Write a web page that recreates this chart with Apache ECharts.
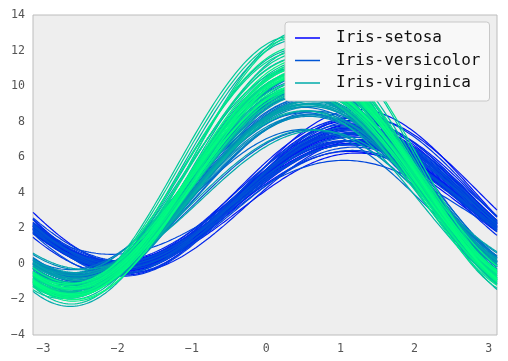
<!DOCTYPE html>
<html>
<head>
<meta charset="utf-8">
<script src="https://cdn.jsdelivr.net/npm/echarts@6/dist/echarts.min.js"></script>
<style>
html,body{margin:0;padding:0;background:#fff;}
#c{width:508px;height:361px;}
</style>
</head>
<body>
<div id="c"></div>
<script>
// Iris dataset (class order as in the file), first three measurements used by the curves
const classNames = ['Iris-setosa', 'Iris-versicolor', 'Iris-virginica'];
const sepalLength = [
5.1,4.9,4.7,4.6,5.0,5.4,4.6,5.0,4.4,4.9,5.4,4.8,4.8,4.3,5.8,5.7,5.4,5.1,5.7,5.1,5.4,5.1,4.6,5.1,4.8,5.0,5.0,5.2,5.2,4.7,4.8,5.4,5.2,5.5,4.9,5.0,5.5,4.9,4.4,5.1,5.0,4.5,4.4,5.0,5.1,4.8,5.1,4.6,5.3,5.0,
7.0,6.4,6.9,5.5,6.5,5.7,6.3,4.9,6.6,5.2,5.0,5.9,6.0,6.1,5.6,6.7,5.6,5.8,6.2,5.6,5.9,6.1,6.3,6.1,6.4,6.6,6.8,6.7,6.0,5.7,5.5,5.5,5.8,6.0,5.4,6.0,6.7,6.3,5.6,5.5,5.5,6.1,5.8,5.0,5.6,5.7,5.7,6.2,5.1,5.7,
6.3,5.8,7.1,6.3,6.5,7.6,4.9,7.3,6.7,7.2,6.5,6.4,6.8,5.7,5.8,6.4,6.5,7.7,7.7,6.0,6.9,5.6,7.7,6.3,6.7,7.2,6.2,6.1,6.4,7.2,7.4,7.9,6.4,6.3,6.1,7.7,6.3,6.4,6.0,6.9,6.7,6.9,5.8,6.8,6.7,6.7,6.3,6.5,6.2,5.9];
const sepalWidth = [
3.5,3.0,3.2,3.1,3.6,3.9,3.4,3.4,2.9,3.1,3.7,3.4,3.0,3.0,4.0,4.4,3.9,3.5,3.8,3.8,3.4,3.7,3.6,3.3,3.4,3.0,3.4,3.5,3.4,3.2,3.1,3.4,4.1,4.2,3.1,3.2,3.5,3.1,3.0,3.4,3.5,2.3,3.2,3.5,3.8,3.0,3.8,3.2,3.7,3.3,
3.2,3.2,3.1,2.3,2.8,2.8,3.3,2.4,2.9,2.7,2.0,3.0,2.2,2.9,2.9,3.1,3.0,2.7,2.2,2.5,3.2,2.8,2.5,2.8,2.9,3.0,2.8,3.0,2.9,2.6,2.4,2.4,2.7,2.7,3.0,3.4,3.1,2.3,3.0,2.5,2.6,3.0,2.6,2.3,2.7,3.0,2.9,2.9,2.5,2.8,
3.3,2.7,3.0,2.9,3.0,3.0,2.5,2.9,2.5,3.6,3.2,2.7,3.0,2.5,2.8,3.2,3.0,3.8,2.6,2.2,3.2,2.8,2.8,2.7,3.3,3.2,2.8,3.0,2.8,3.0,2.8,3.8,2.8,2.8,2.6,3.0,3.4,3.1,3.0,3.1,3.1,3.1,2.7,3.2,3.3,3.0,2.5,3.0,3.4,3.0];
const petalLength = [
1.4,1.4,1.3,1.5,1.4,1.7,1.4,1.5,1.4,1.5,1.5,1.6,1.4,1.1,1.2,1.5,1.3,1.4,1.7,1.5,1.7,1.5,1.0,1.7,1.9,1.6,1.6,1.5,1.4,1.6,1.6,1.5,1.5,1.4,1.5,1.2,1.3,1.5,1.3,1.5,1.3,1.3,1.3,1.6,1.9,1.4,1.6,1.4,1.5,1.4,
4.7,4.5,4.9,4.0,4.6,4.5,4.7,3.3,4.6,3.9,3.5,4.2,4.0,4.7,3.6,4.4,4.5,4.1,4.5,3.9,4.8,4.0,4.9,4.7,4.3,4.4,4.8,5.0,4.5,3.5,3.8,3.7,3.9,5.1,4.5,4.5,4.7,4.4,4.1,4.0,4.4,4.6,4.0,3.3,4.2,4.2,4.2,4.3,3.0,4.1,
6.0,5.1,5.9,5.6,5.8,6.6,4.5,6.3,5.8,6.1,5.1,5.3,5.5,5.0,5.1,5.3,5.5,6.7,6.9,5.0,5.7,4.9,6.7,4.9,5.7,6.0,4.8,4.9,5.6,5.8,6.1,6.4,5.6,5.1,5.6,6.1,5.6,5.5,4.8,5.4,5.6,5.1,5.1,5.9,5.7,5.2,5.0,5.2,5.4,5.1];
const classSize = [50, 50, 50];
const yTicks = [-4, -2, 0, 2, 4, 6, 8, 10, 12, 14];
const xTicks = [-3, -2, -1, 0, 1, 2, 3];
const samples = 200;

// sample grid t in [-pi, pi)
const tVals = [];
for (let k = 0; k < samples; k++) tVals.push(-Math.PI + 2 * Math.PI * k / samples);

function winter(v) {
  const idx = Math.min(255, Math.floor(v * 256));
  const f = idx / 255;
  const g = Math.round(255 * f), b = Math.round(255 * (1 - 0.5 * f));
  return 'rgb(0,' + g + ',' + b + ')';
}

const n = sepalLength.length;
const series = [];
let start = 0;
const firstOfClass = {};
classSize.forEach((s, c) => { firstOfClass[start] = classNames[c]; start += s; });
for (let i = 0; i < n; i++) {
  const a = sepalLength[i], b = sepalWidth[i], c = petalLength[i];
  const data = tVals.map(t => [t, a / Math.SQRT2 + b * Math.sin(t) + c * Math.cos(t)]);
  series.push({
    type: 'line',
    name: firstOfClass[i] !== undefined ? firstOfClass[i] : ('row' + i),
    data: data,
    showSymbol: false,
    symbol: 'none',
    color: winter(i / (n - 1)),
    lineStyle: { width: 1.2 },
    silent: true,
    animation: false,
    z: 2
  });
}

const fmt = v => String(v).replace('-', '\u2212');
const chart = echarts.init(document.getElementById('c'), null, { renderer: 'canvas' });
chart.setOption({
  animation: false,
  backgroundColor: '#ffffff',
  grid: {
    left: 33, top: 15, right: 11, bottom: 26,
    show: true, backgroundColor: '#eeeeee', borderColor: '#bcbcbc', borderWidth: 1
  },
  xAxis: {
    type: 'value',
    min: -Math.PI, max: tVals[tVals.length - 1],
    interval: 1,
    axisLine: { show: false }, axisTick: { show: false }, splitLine: { show: false },
    axisLabel: {
      margin: 8, color: '#555555', fontFamily: 'DejaVu Sans Mono', fontSize: 11.6,
      customValues: xTicks,
      formatter: fmt
    }
  },
  yAxis: {
    type: 'value',
    min: yTicks[0], max: yTicks[yTicks.length - 1], interval: 2,
    axisLine: { show: false }, axisTick: { show: false }, splitLine: { show: false },
    axisLabel: {
      margin: 8, color: '#555555', fontFamily: 'DejaVu Sans Mono', fontSize: 11.6,
      formatter: fmt
    }
  },
  legend: {
    data: classNames,
    orient: 'vertical',
    left: 285, top: 22,
    padding: [8, 9, 10, 10],
    icon: 'rect',
    itemWidth: 25, itemHeight: 1.5, itemGap: 6.5,
    backgroundColor: '#f8f8f8',
    borderColor: '#c8c8c8', borderWidth: 1, borderRadius: 3,
    selectedMode: false,
    textStyle: { fontFamily: 'DejaVu Sans Mono', fontSize: 16, lineHeight: 14, color: '#111111', padding: [0, 0, 0, 11] }
  },
  series: series
});
</script>
</body>
</html>
